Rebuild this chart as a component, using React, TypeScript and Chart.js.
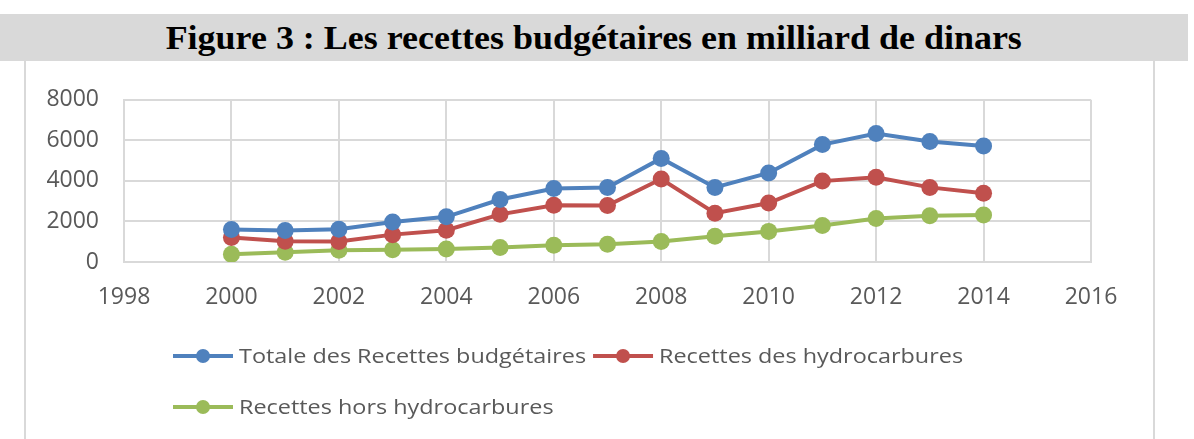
import React, { useEffect, useRef } from "react";
import { Chart, registerables } from "chart.js";

Chart.register(...registerables);

const TITLE = "Figure 3 : Les recettes budgétaires en milliard de dinars";
const years = [2000, 2001, 2002, 2003, 2004, 2005, 2006, 2007, 2008, 2009, 2010, 2011, 2012, 2013, 2014];
const totalRecettes = [1600, 1550, 1620, 1970, 2230, 3080, 3620, 3680, 5110, 3680, 4390, 5790, 6340, 5940, 5720];
const recettesHydro = [1210, 1020, 1010, 1350, 1570, 2350, 2800, 2790, 4090, 2410, 2910, 3990, 4180, 3680, 3390];
const recettesHors = [380, 480, 580, 600, 640, 720, 830, 880, 1010, 1270, 1510, 1800, 2150, 2280, 2320];
const seriesNames = ["Totale des Recettes budgétaires", "Recettes des hydrocarbures", "Recettes hors hydrocarbures"];
const seriesColors = ["#4F81BD", "#C0504D", "#9BBB59"];
const xTicks = { min: 1998, max: 2016, step: 2 };
const yTicks = { min: 0, max: 8000, step: 2000 };

const FONT = "'Open Sans', sans-serif";

const legendPlugin = {
  id: "excelLegend",
  afterDraw(chart: any) {
    const ctx = chart.ctx;
    const sx = 1.17;
    ctx.save();
    ctx.font = `20px ${FONT}`;
    ctx.textBaseline = "middle";
    const rows = [
      { y: 295, items: [0, 1] },
      { y: 346, items: [2] },
    ];
    rows.forEach((row) => {
      let x = 148;
      row.items.forEach((i) => {
        const ds = chart.data.datasets[i];
        ctx.strokeStyle = ds.borderColor;
        ctx.lineWidth = 4;
        ctx.beginPath();
        ctx.moveTo(x, row.y);
        ctx.lineTo(x + 60, row.y);
        ctx.stroke();
        ctx.fillStyle = ds.borderColor;
        ctx.beginPath();
        ctx.arc(x + 30, row.y, 7, 0, Math.PI * 2);
        ctx.fill();
        ctx.fillStyle = "#595959";
        const tx = x + 66;
        ctx.save();
        ctx.translate(tx, row.y);
        ctx.scale(sx, 1);
        ctx.fillText(ds.label, 0, 1);
        ctx.restore();
        x = tx + ctx.measureText(ds.label).width * sx + 7;
      });
    });
    ctx.restore();
  },
};

export default function App() {
  const ref = useRef<HTMLCanvasElement>(null);
  useEffect(() => {
    if (!ref.current) return;
    const mk = (vals: number[], i: number) => ({
      label: seriesNames[i],
      data: years.map((yr, k) => ({ x: yr, y: vals[k] })),
      borderColor: seriesColors[i],
      backgroundColor: seriesColors[i],
      pointBackgroundColor: seriesColors[i],
      pointBorderWidth: 0,
      pointRadius: 8.5,
      borderWidth: 4,
      tension: 0,
    });
    const chart = new Chart(ref.current, {
      type: "line",
      data: {
        datasets: [mk(totalRecettes, 0), mk(recettesHydro, 1), mk(recettesHors, 2)],
      },
      options: {
        animation: false,
        responsive: false,
        maintainAspectRatio: false,
        layout: { padding: { left: 0, right: 61, top: 33, bottom: 0 } },
        plugins: { legend: { display: false }, tooltip: { enabled: false } },
        scales: {
          x: {
            type: "linear",
            min: xTicks.min,
            max: xTicks.max,
            ticks: {
              stepSize: xTicks.step,
              padding: 22,
              color: "#595959",
              font: { family: FONT, size: 23 },
              callback: (v: any) => String(v),
            },
            grid: { color: "#d9d9d9", lineWidth: 2, drawTicks: false },
            border: { color: "#d9d9d9", width: 2 },
            afterFit: (s: any) => {
              s.height = 177;
            },
          },
          y: {
            min: yTicks.min,
            max: yTicks.max,
            ticks: {
              stepSize: yTicks.step,
              padding: 25,
              color: "#595959",
              font: { family: FONT, size: 23 },
              callback: (v: any) => String(v),
            },
            grid: { color: "#d9d9d9", lineWidth: 2, drawTicks: false },
            border: { color: "#d9d9d9", width: 2 },
            afterFit: (s: any) => {
              s.width = 99;
            },
          },
        },
      },
      plugins: [legendPlugin],
    });
    return () => chart.destroy();
  }, []);

  return (
    <div style={{ position: "absolute", left: 0, top: 0, width: 1194, height: 439, background: "#fff", overflow: "hidden" }}>
      <div
        style={{
          position: "absolute",
          left: 0,
          top: 14,
          width: 1188,
          height: 47,
          background: "#d9d9d9",
          display: "flex",
          alignItems: "center",
          justifyContent: "center",
        }}
      >
        <span
          style={{
            fontFamily: "'Liberation Serif', serif",
            fontWeight: "bold",
            fontSize: 33,
            color: "#000",
            whiteSpace: "nowrap",
            display: "inline-block",
            transform: "scaleX(1.09)",
            marginTop: 2,
          }}
        >
          {TITLE}
        </span>
      </div>
      <div
        style={{
          position: "absolute",
          left: 24,
          top: 61,
          width: 1127,
          height: 400,
          borderLeft: "2px solid #d9d9d9",
          borderRight: "2px solid #d9d9d9",
        }}
      />
      <canvas ref={ref} width={1127} height={378} style={{ position: "absolute", left: 25, top: 61 }} />
    </div>
  );
}
